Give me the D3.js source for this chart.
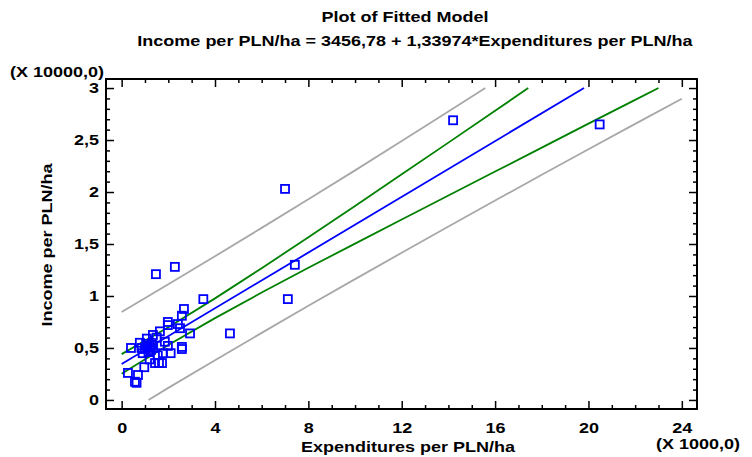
<!DOCTYPE html>
<html>
<head>
<meta charset="utf-8">
<script src="https://cdn.jsdelivr.net/npm/d3@7"></script>
<style>
  body { margin: 0; background: #fff; }
  text { font-family: "Liberation Sans", Arial, sans-serif; font-weight: bold; fill: #000; }
</style>
</head>
<body>
<script>
// observed points (x in 1000 PLN/ha, y in 10000 PLN/ha)
const pointsX = [14.2, 20.48, 7.0, 7.42, 7.12, 4.64, 1.47, 2.28, 3.5, 2.67, 2.58,
                 1.98, 1.98, 2.41, 2.5, 2.93, 1.64, 1.34, 1.08, 0.78, 0.4, 1.0, 1.1,
                 1.2, 1.25, 1.15, 1.3, 1.05, 1.35, 1.98, 2.58, 2.58, 1.77, 2.1, 1.2,
                 1.43, 1.6, 1.73, 0.97, 0.27, 0.7, 0.57, 0.64, 1.5, 1.85, 1.55, 0.9, 0.85];
const pointsY = [2.69, 2.65, 2.03, 1.30, 0.97, 0.64, 1.21, 1.28, 0.97, 0.875, 0.81,
                 0.75, 0.72, 0.73, 0.69, 0.64, 0.66, 0.625, 0.59, 0.55, 0.50, 0.49, 0.51,
                 0.52, 0.48, 0.46, 0.53, 0.54, 0.50, 0.52, 0.51, 0.49, 0.45, 0.45, 0.39,
                 0.355, 0.355, 0.355, 0.315, 0.26, 0.24, 0.175, 0.165, 0.60, 0.56, 0.43, 0.45, 0.50];

// fitted line and limits
const fitLine   = [[0, 0.346], [19.81, 3.0]];
const confUpper = [[0, 0.441], [2, 0.700], [4, 0.977], [6, 1.267], [8, 1.565], [10, 1.866],
                   [12, 2.170], [14, 2.475], [16, 2.781], [17.42, 3.0]];
const confLower = [[0, 0.251], [2, 0.528], [4, 0.787], [6, 1.033], [8, 1.271], [10, 1.504],
                   [12, 1.736], [14, 1.967], [16, 2.197], [18, 2.427], [20, 2.658], [22, 2.886], [23.0, 3.0]];
const predUpper = [[0, 0.846], [2, 1.112], [4, 1.382], [6, 1.655], [8, 1.930], [10, 2.208],
                   [12, 2.490], [14, 2.774], [15.58, 3.0]];
const predLower = [[1.15, 0], [2, 0.116], [4, 0.382], [6, 0.645], [8, 0.906], [10, 1.162],
                   [12, 1.416], [14, 1.668], [16, 1.918], [18, 2.166], [20, 2.411], [22, 2.655], [24, 2.897]];

const xTicks = [0, 4, 8, 12, 16, 20, 24];
const yTicks = [0, 0.5, 1, 1.5, 2, 2.5, 3];

const width = 752, height = 457;
const plotLeft = 106, plotRight = 697, plotTop = 79, plotBottom = 409;

const svg = d3.select("body").append("svg")
    .attr("width", width)
    .attr("height", height);

const x = d3.scaleLinear().domain([-0.67, 24.65]).range([plotLeft, plotRight]);
const y = d3.scaleLinear().domain([-0.087, 3.087]).range([plotBottom, plotTop]);

const fmt = v => String(v).replace(".", ",");
const xMinor = d3.range(0, 25, 1).filter(v => v % 4 !== 0);
const yMinor = d3.range(0, 31, 1).map(v => v / 10).filter(v => Math.round(v * 10) % 5 !== 0);

// minor ticks on all sides
function minorAxis(axisFn, scale, vals, tr) {
  svg.append("g").attr("transform", tr)
    .call(axisFn(scale).tickValues(vals).tickSizeInner(-4).tickSizeOuter(0).tickFormat(""))
    .call(g => g.select(".domain").remove())
    .selectAll("line").attr("stroke-width", 1.5);
}
minorAxis(d3.axisBottom, x, xMinor, `translate(0,${plotBottom})`);
minorAxis(d3.axisTop, x, xMinor, `translate(0,${plotTop})`);
minorAxis(d3.axisLeft, y, yMinor, `translate(${plotLeft},0)`);
minorAxis(d3.axisRight, y, yMinor, `translate(${plotRight},0)`);

// major ticks
svg.append("g").attr("transform", `translate(0,${plotBottom})`)
  .call(d3.axisBottom(x).tickValues(xTicks).tickSizeInner(-8).tickSizeOuter(0).tickPadding(13).tickFormat(fmt))
  .call(g => g.select(".domain").remove())
  .call(g => g.selectAll("text").attr("font-size", 15).attr("font-family", null))
  .selectAll("line").attr("stroke-width", 1.5);
svg.append("g").attr("transform", `translate(0,${plotTop})`)
  .call(d3.axisTop(x).tickValues(xTicks).tickSizeInner(-8).tickSizeOuter(0).tickFormat(""))
  .call(g => g.select(".domain").remove())
  .selectAll("line").attr("stroke-width", 1.5);
svg.append("g").attr("transform", `translate(${plotLeft},0)`)
  .call(d3.axisLeft(y).tickValues(yTicks).tickSizeInner(-8).tickSizeOuter(0).tickPadding(7).tickFormat(fmt))
  .call(g => g.select(".domain").remove())
  .call(g => g.selectAll("text").attr("font-size", 15).attr("font-family", null))
  .selectAll("line").attr("stroke-width", 1.5);
svg.append("g").attr("transform", `translate(${plotRight},0)`)
  .call(d3.axisRight(y).tickValues(yTicks).tickSizeInner(-8).tickSizeOuter(0).tickFormat(""))
  .call(g => g.select(".domain").remove())
  .selectAll("line").attr("stroke-width", 1.5);

// frame
svg.append("rect")
    .attr("x", plotLeft).attr("y", plotTop)
    .attr("width", plotRight - plotLeft).attr("height", plotBottom - plotTop)
    .attr("fill", "none").attr("stroke", "#000").attr("stroke-width", 2);

// lines
const line = d3.line().x(d => x(d[0])).y(d => y(d[1]));
const bands = [
  { data: predUpper, color: "#a8a8a8" },
  { data: predLower, color: "#a8a8a8" },
  { data: confUpper, color: "#008000" },
  { data: confLower, color: "#008000" },
  { data: fitLine,   color: "#0000ff" }
];
svg.selectAll(".band")
  .data(bands)
  .enter()
  .append("path")
    .attr("class", "band")
    .attr("d", d => line(d.data))
    .attr("fill", "none")
    .attr("stroke", d => d.color)
    .attr("stroke-width", 1.8);

// points
svg.selectAll(".pt")
  .data(pointsX.map((v, i) => [v, pointsY[i]]))
  .enter()
  .append("rect")
    .attr("class", "pt")
    .attr("x", d => x(d[0]) - 4)
    .attr("y", d => y(d[1]) - 4)
    .attr("width", 8)
    .attr("height", 8)
    .attr("fill", "none")
    .attr("stroke", "#0000ff")
    .attr("stroke-width", 1.8);

// texts
svg.append("text").attr("x", 405).attr("y", 22).attr("text-anchor", "middle")
  .attr("font-size", 15).text("Plot of Fitted Model");
svg.append("text").attr("x", 415).attr("y", 46).attr("text-anchor", "middle")
  .attr("font-size", 15).text("Income per PLN/ha = 3456,78 + 1,33974*Expenditures per PLN/ha");
svg.append("text").attr("x", 10).attr("y", 77)
  .attr("font-size", 15).text("(X 10000,0)");
svg.append("text").attr("x", 698).attr("y", 449).attr("text-anchor", "middle")
  .attr("font-size", 15).text("(X 1000,0)");
svg.append("text").attr("x", 408).attr("y", 452).attr("text-anchor", "middle")
  .attr("font-size", 15).text("Expenditures per PLN/ha");
svg.append("text").attr("transform", "translate(52,245) rotate(-90)").attr("text-anchor", "middle")
  .attr("font-size", 15).text("Income per PLN/ha");

// reference text looks horizontally stretched
svg.selectAll("text").each(function() {
  const w = this.getComputedTextLength();
  if (w > 0) {
    d3.select(this).attr("textLength", w * 1.2).attr("lengthAdjust", "spacingAndGlyphs");
  }
});
</script>
</body>
</html>
